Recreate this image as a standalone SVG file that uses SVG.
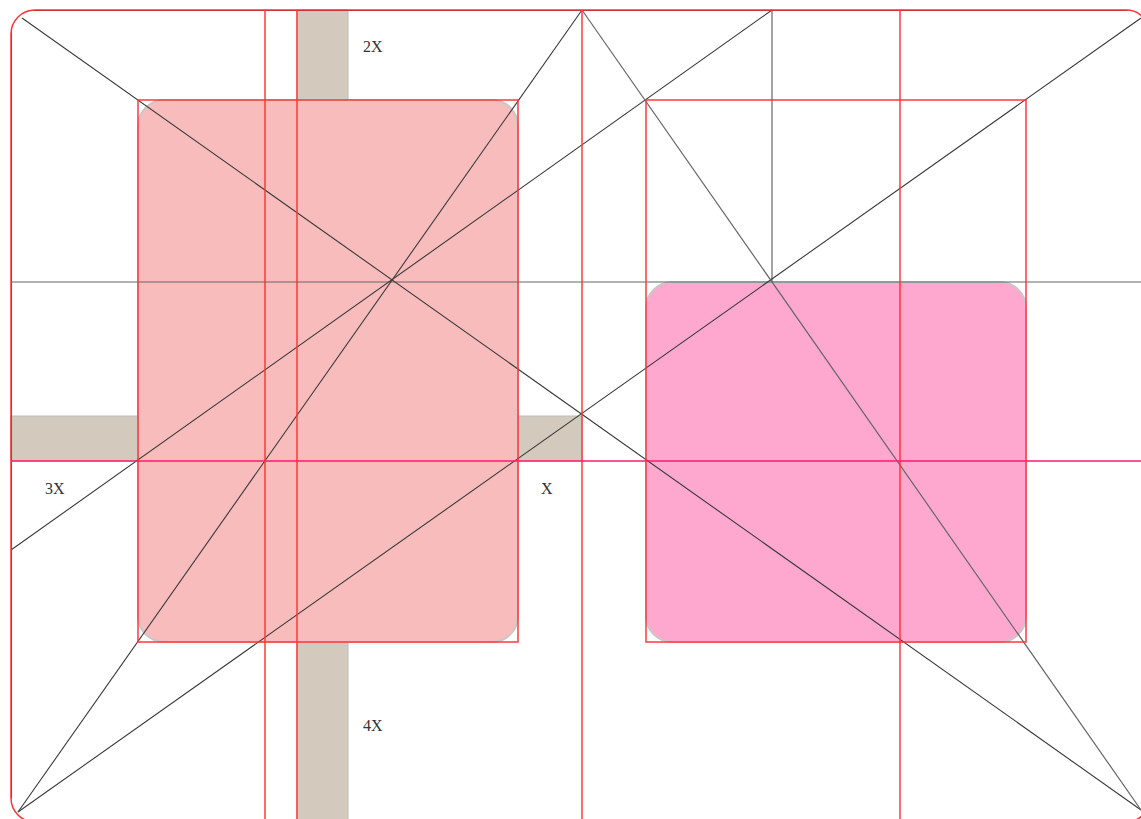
<svg xmlns="http://www.w3.org/2000/svg" width="1141" height="819" viewBox="0 0 1141 819">
<style>
.red{stroke:#ff3333;stroke-width:1.6;fill:none;stroke-opacity:0.9}
.dk{stroke:#3a3a3a;stroke-width:1.1;fill:none}
.gr{stroke:#666;stroke-width:1.2;fill:none}
.tan{fill:#d3cabd;stroke:#bdbdbd;stroke-width:1}
.lbl{font-family:"Liberation Serif","Times New Roman",serif;font-size:16px;fill:#333}
</style>
<rect width="1141" height="819" fill="#fff"/>
<g id="box-left"><rect x="138" y="100" width="380" height="542" rx="26" fill="#f8bcbc" stroke="#c8c8c8" stroke-width="2"/></g>
<g id="box-right"><rect x="646" y="282" width="380" height="360" rx="26" fill="#ffa8cf" stroke="#c8c8c8" stroke-width="2"/></g>
<g id="spacers">
<rect class="tan" x="297" y="10" width="51" height="90"/>
<rect class="tan" x="297" y="642" width="51" height="180"/>
<rect class="tan" x="11" y="416" width="127" height="45"/>
<rect class="tan" x="518" y="416" width="64" height="45"/>
</g>
<g id="connectors">
<line class="dk" x1="32" y1="10.5" x2="1128" y2="10.5"/>
<line class="dk" x1="11.5" y1="32" x2="11.5" y2="798"/>
<line class="gr" x1="11" y1="282" x2="1141" y2="282"/>
<line class="gr" x1="772" y1="10" x2="772" y2="282"/>
<line class="dk" x1="22" y1="18" x2="1141" y2="810"/>
<line class="dk" x1="18" y1="812" x2="1141" y2="18"/>
<line class="dk" x1="11" y1="550" x2="772" y2="10"/>
<line class="dk" x1="18" y1="812" x2="582" y2="10"/>
<line class="gr" x1="582" y1="10" x2="1141" y2="810"/>
<line class="red" x1="265" y1="10" x2="265" y2="819"/>
<line class="red" x1="297" y1="10" x2="297" y2="819"/>
<line class="red" x1="582" y1="10" x2="582" y2="819"/>
<line class="red" x1="900" y1="10" x2="900" y2="819"/>
<line x1="11" y1="461" x2="1141" y2="461" stroke="#ff1a6e" stroke-width="1.5"/>
<rect class="red" x="138" y="100" width="380" height="542"/>
<rect class="red" x="646" y="100" width="380" height="542"/>
<rect x="11" y="10" width="1139" height="812" rx="24" fill="none" stroke="#ff3333" stroke-width="1.5"/>
</g>
<g id="labels">
<text class="lbl" x="363" y="52">2X</text>
<text class="lbl" x="45" y="494">3X</text>
<text class="lbl" x="541" y="494">X</text>
<text class="lbl" x="363" y="731">4X</text>
</g>
</svg>
